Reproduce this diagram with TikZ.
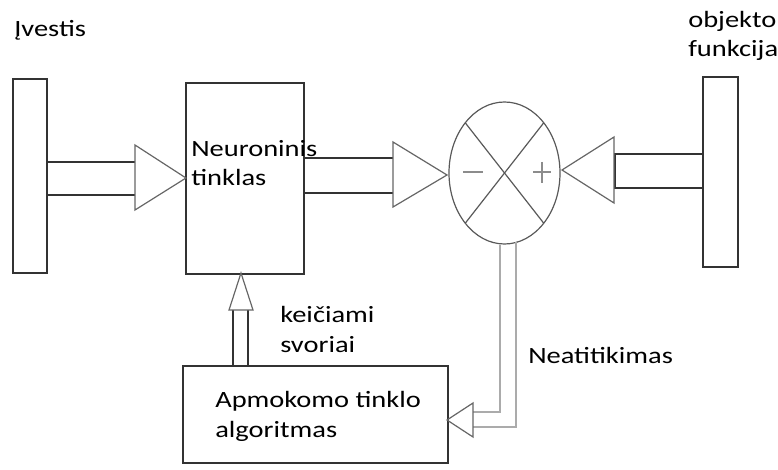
\documentclass[tikz,border=0pt]{standalone}
\usepackage{fontspec}
\setmainfont{Carlito}[FakeStretch=1.22]
\usetikzlibrary{calc}

\tikzset{
  wire/.style={draw=black!80,line width=1.1pt},
  tip/.style={draw=black!60,line width=0.9pt,line join=miter},
  err/.style={draw=black!33,line width=1.2pt},
  lbl/.style={anchor=base west,inner sep=0pt,align=left,text=black,
    font=\fontsize{17.5}{22}\selectfont},
}

\begin{document}
\begin{tikzpicture}[x=0.75pt,y=-0.75pt,line cap=butt,line join=miter]
  \useasboundingbox (0,0) rectangle (778,470);
  % input and target bars
  \coordinate (in nw) at (13,79);    \coordinate (in se) at (47,273);
  \coordinate (obj nw) at (703,77);  \coordinate (obj se) at (738,267);
  \draw[wire] (in nw) rectangle (in se);
  \draw[wire] (obj nw) rectangle (obj se);
  % network and training blocks
  \coordinate (net nw) at (186,83);  \coordinate (net se) at (304,274);
  \coordinate (alg nw) at (183,366); \coordinate (alg se) at (448,463);
  \draw[wire] (net nw) rectangle (net se);
  \draw[wire] (alg nw) rectangle (alg se);
  % input -> network
  \draw[wire] (47,162) -- (135,162);
  \draw[wire] (47,195) -- (135,195);
  \draw[tip] (135,145) -- (186,178) -- (135,210) -- cycle;
  % network -> comparator
  \draw[wire] (304,158) -- (393,158);
  \draw[wire] (304,193) -- (393,193);
  \draw[tip] (393,142) -- (447,175) -- (393,207) -- cycle;
  % target -> comparator
  \draw[wire] (703,154) -- (615,154) -- (615,188) -- (703,188);
  \draw[tip] (614,137) -- (562,170) -- (614,203) -- cycle;
  % comparator
  \coordinate (sum) at (504.5,173);
  \draw[tip,black!65] (sum) ellipse [x radius=55.5,y radius=71];
  \foreach \a in {45,135}
    \draw[tip,black!65] ($(sum)+({55.5*cos(\a)},{71*sin(\a)})$)
      -- ($(sum)-({55.5*cos(\a)},{71*sin(\a)})$);
  \draw[tip,black!45,line width=1.1pt] (463,172) -- (483,172);
  \draw[tip,black!45,line width=1.1pt] (533,172) -- (551,172) (542,162) -- (542,183);
  % mismatch fed back to the training block
  \draw[err] (500,245) -- (500,412) -- (473,412);
  \draw[err] (516,242) -- (516,427) -- (473,427);
  \draw[tip] (473,403) -- (447,420) -- (473,437) -- cycle;
  % updated weights back to the network
  \draw[wire] (233,366) -- (233,310);
  \draw[wire] (248,366) -- (248,310);
  \draw[tip] (229,310) -- (241,273) -- (253,310) -- cycle;
  % labels
  \node[lbl] (in txt) at (14,37) {Įvestis};
  \node[lbl] (obj txt) at (688,57) {objekto\\funkcija};
  \node[lbl] (net txt) at (191,186) {Neuroninis\\tinklas};
  \node[lbl] (w txt) at (280,352) {keičiami\\svoriai};
  \node[lbl] (err txt) at (528,363) {Neatitikimas};
  \node[lbl] (alg txt) at (215,437) {Apmokomo tinklo\\algoritmas};
\end{tikzpicture}
\end{document}
